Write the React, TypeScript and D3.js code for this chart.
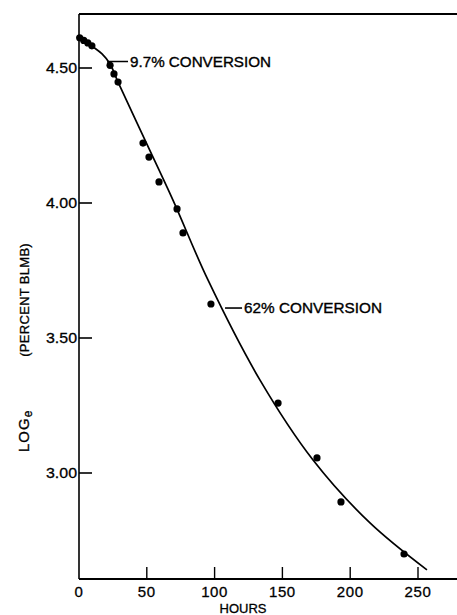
import React from "react";
import * as d3 from "d3";

const hours = [0.5, 3.5, 6.5, 9.5, 22.9, 25.8, 28.8, 47.2, 51.6, 59.0, 72.3, 76.7, 97.3, 146.8, 175.5, 193.2, 239.7];
const logPercent = [4.612, 4.602, 4.593, 4.582, 4.51, 4.478, 4.448, 4.222, 4.17, 4.078, 3.978, 3.889, 3.626, 3.259, 3.056, 2.893, 2.7];

const curveHours = [0, 9.6, 17.0, 22.9, 28.8, 48.7, 69.3, 95.1, 133.5, 172.6, 214.6, 256.6];
const curveLog = [4.617, 4.581, 4.552, 4.515, 4.448, 4.233, 4.011, 3.715, 3.344, 3.048, 2.815, 2.641];

const xTicks = [0, 50, 100, 150, 200, 250];
const xTickLabels = ["0", "50", "100", "150", "200", "250"];
const yTicks = [4.5, 4.0, 3.5, 3.0];
const yTickLabels = ["4.50", "4.00", "3.50", "3.00"];

const annotHours = [21.4, 107.7];
const annotLog = [4.515, 3.611];
const annotLabels = ["9.7% CONVERSION", "62% CONVERSION"];

const W = 457;
const H = 615;
const left = 79;
const top = 14;
const bottom = 579;

export default function App() {
  const x = d3.scaleLinear().domain([0, 250]).range([left, 418]);
  const y = d3.scaleLinear().domain([3.0, 4.5]).range([473, 68]);
  const font = "'Liberation Sans', Arial, sans-serif";

  const line = d3
    .line<number>()
    .x((_, i) => x(curveHours[i]))
    .y((d) => y(d))
    .curve(d3.curveCatmullRom.alpha(0.5));

  return (
    <svg
      width={W}
      height={H}
      style={{ position: "absolute", left: 0, top: 0, background: "#fff" }}
    >
      {/* frame */}
      <line x1={left} x2={W} y1={top} y2={top} stroke="#000" strokeWidth={2.2} />
      <line x1={left} x2={left} y1={top} y2={bottom} stroke="#000" strokeWidth={1.6} />
      <line x1={left} x2={W} y1={bottom} y2={bottom} stroke="#000" strokeWidth={1.8} />

      {/* y ticks */}
      {yTicks.map((t, i) => (
        <g key={"y" + i}>
          <line x1={left} x2={left + 13} y1={y(t)} y2={y(t)} stroke="#000" strokeWidth={1.6} />
          <text
            x={left - 2}
            y={y(t)}
            dy="0.36em"
            textAnchor="end"
            fontFamily={font}
            fontSize={15}
            textLength={31}
            lengthAdjust="spacingAndGlyphs"
            fill="#000"
            stroke="#000"
            strokeWidth={0.3}
          >
            {yTickLabels[i]}
          </text>
        </g>
      ))}

      {/* x ticks */}
      {xTicks.map((t, i) => (
        <g key={"x" + i}>
          {t !== 0 && (
            <line x1={x(t)} x2={x(t)} y1={bottom} y2={bottom - 12} stroke="#000" strokeWidth={1.4} />
          )}
          <text
            x={x(t)}
            y={597}
            textAnchor="middle"
            fontFamily={font}
            fontSize={15}
            letterSpacing={0.6}
            fill="#000"
            stroke="#000"
            strokeWidth={0.3}
          >
            {xTickLabels[i]}
          </text>
        </g>
      ))}

      <text
        x={243}
        y={613}
        textAnchor="middle"
        fontFamily={font}
        fontSize={13}
        fill="#000"
        stroke="#000"
        strokeWidth={0.3}
      >
        HOURS
      </text>

      {/* y axis label */}
      <text
        transform="translate(29,452) rotate(-90)"
        fontFamily={font}
        fontSize={15}
        fill="#000"
        stroke="#000"
        strokeWidth={0.3}
        letterSpacing={1}
      >
        LOG
        <tspan fontSize={12} dy={3}>
          e
        </tspan>
      </text>
      <text
        transform="translate(29,243) rotate(-90)"
        textAnchor="end"
        fontFamily={font}
        fontSize={13}
        fill="#000"
        stroke="#000"
        strokeWidth={0.3}
        letterSpacing={0.3}
      >
        (PERCENT BLMB)
      </text>

      {/* fitted curve */}
      <path d={line(curveLog) || ""} fill="none" stroke="#000" strokeWidth={1.7} />

      {/* data points */}
      {hours.map((h, i) => (
        <circle key={"p" + i} cx={x(h)} cy={y(logPercent[i])} r={3.6} fill="#000" />
      ))}

      {/* annotations */}
      {annotLabels.map((lab, i) => {
        const ax = x(annotHours[i]);
        const ay = y(annotLog[i]);
        const ly = i === 0 ? ay - 2.5 : ay;
        return (
          <g key={"a" + i}>
            <path
              d={i === 0 ? `M${ax},${ay + 1}V${ly}H${ax + 20}` : `M${ax},${ly}H${ax + 17}`}
              fill="none"
              stroke="#000"
              strokeWidth={1.6}
            />
            <text
              x={ax + (i === 0 ? 22 : 19)}
              y={ly}
              dy="0.36em"
              fontFamily={font}
              fontSize={14.5}
              textLength={i === 0 ? 141 : 138}
              lengthAdjust="spacingAndGlyphs"
              fill="#000"
              stroke="#000"
              strokeWidth={0.35}
            >
              {lab}
            </text>
          </g>
        );
      })}
    </svg>
  );
}
